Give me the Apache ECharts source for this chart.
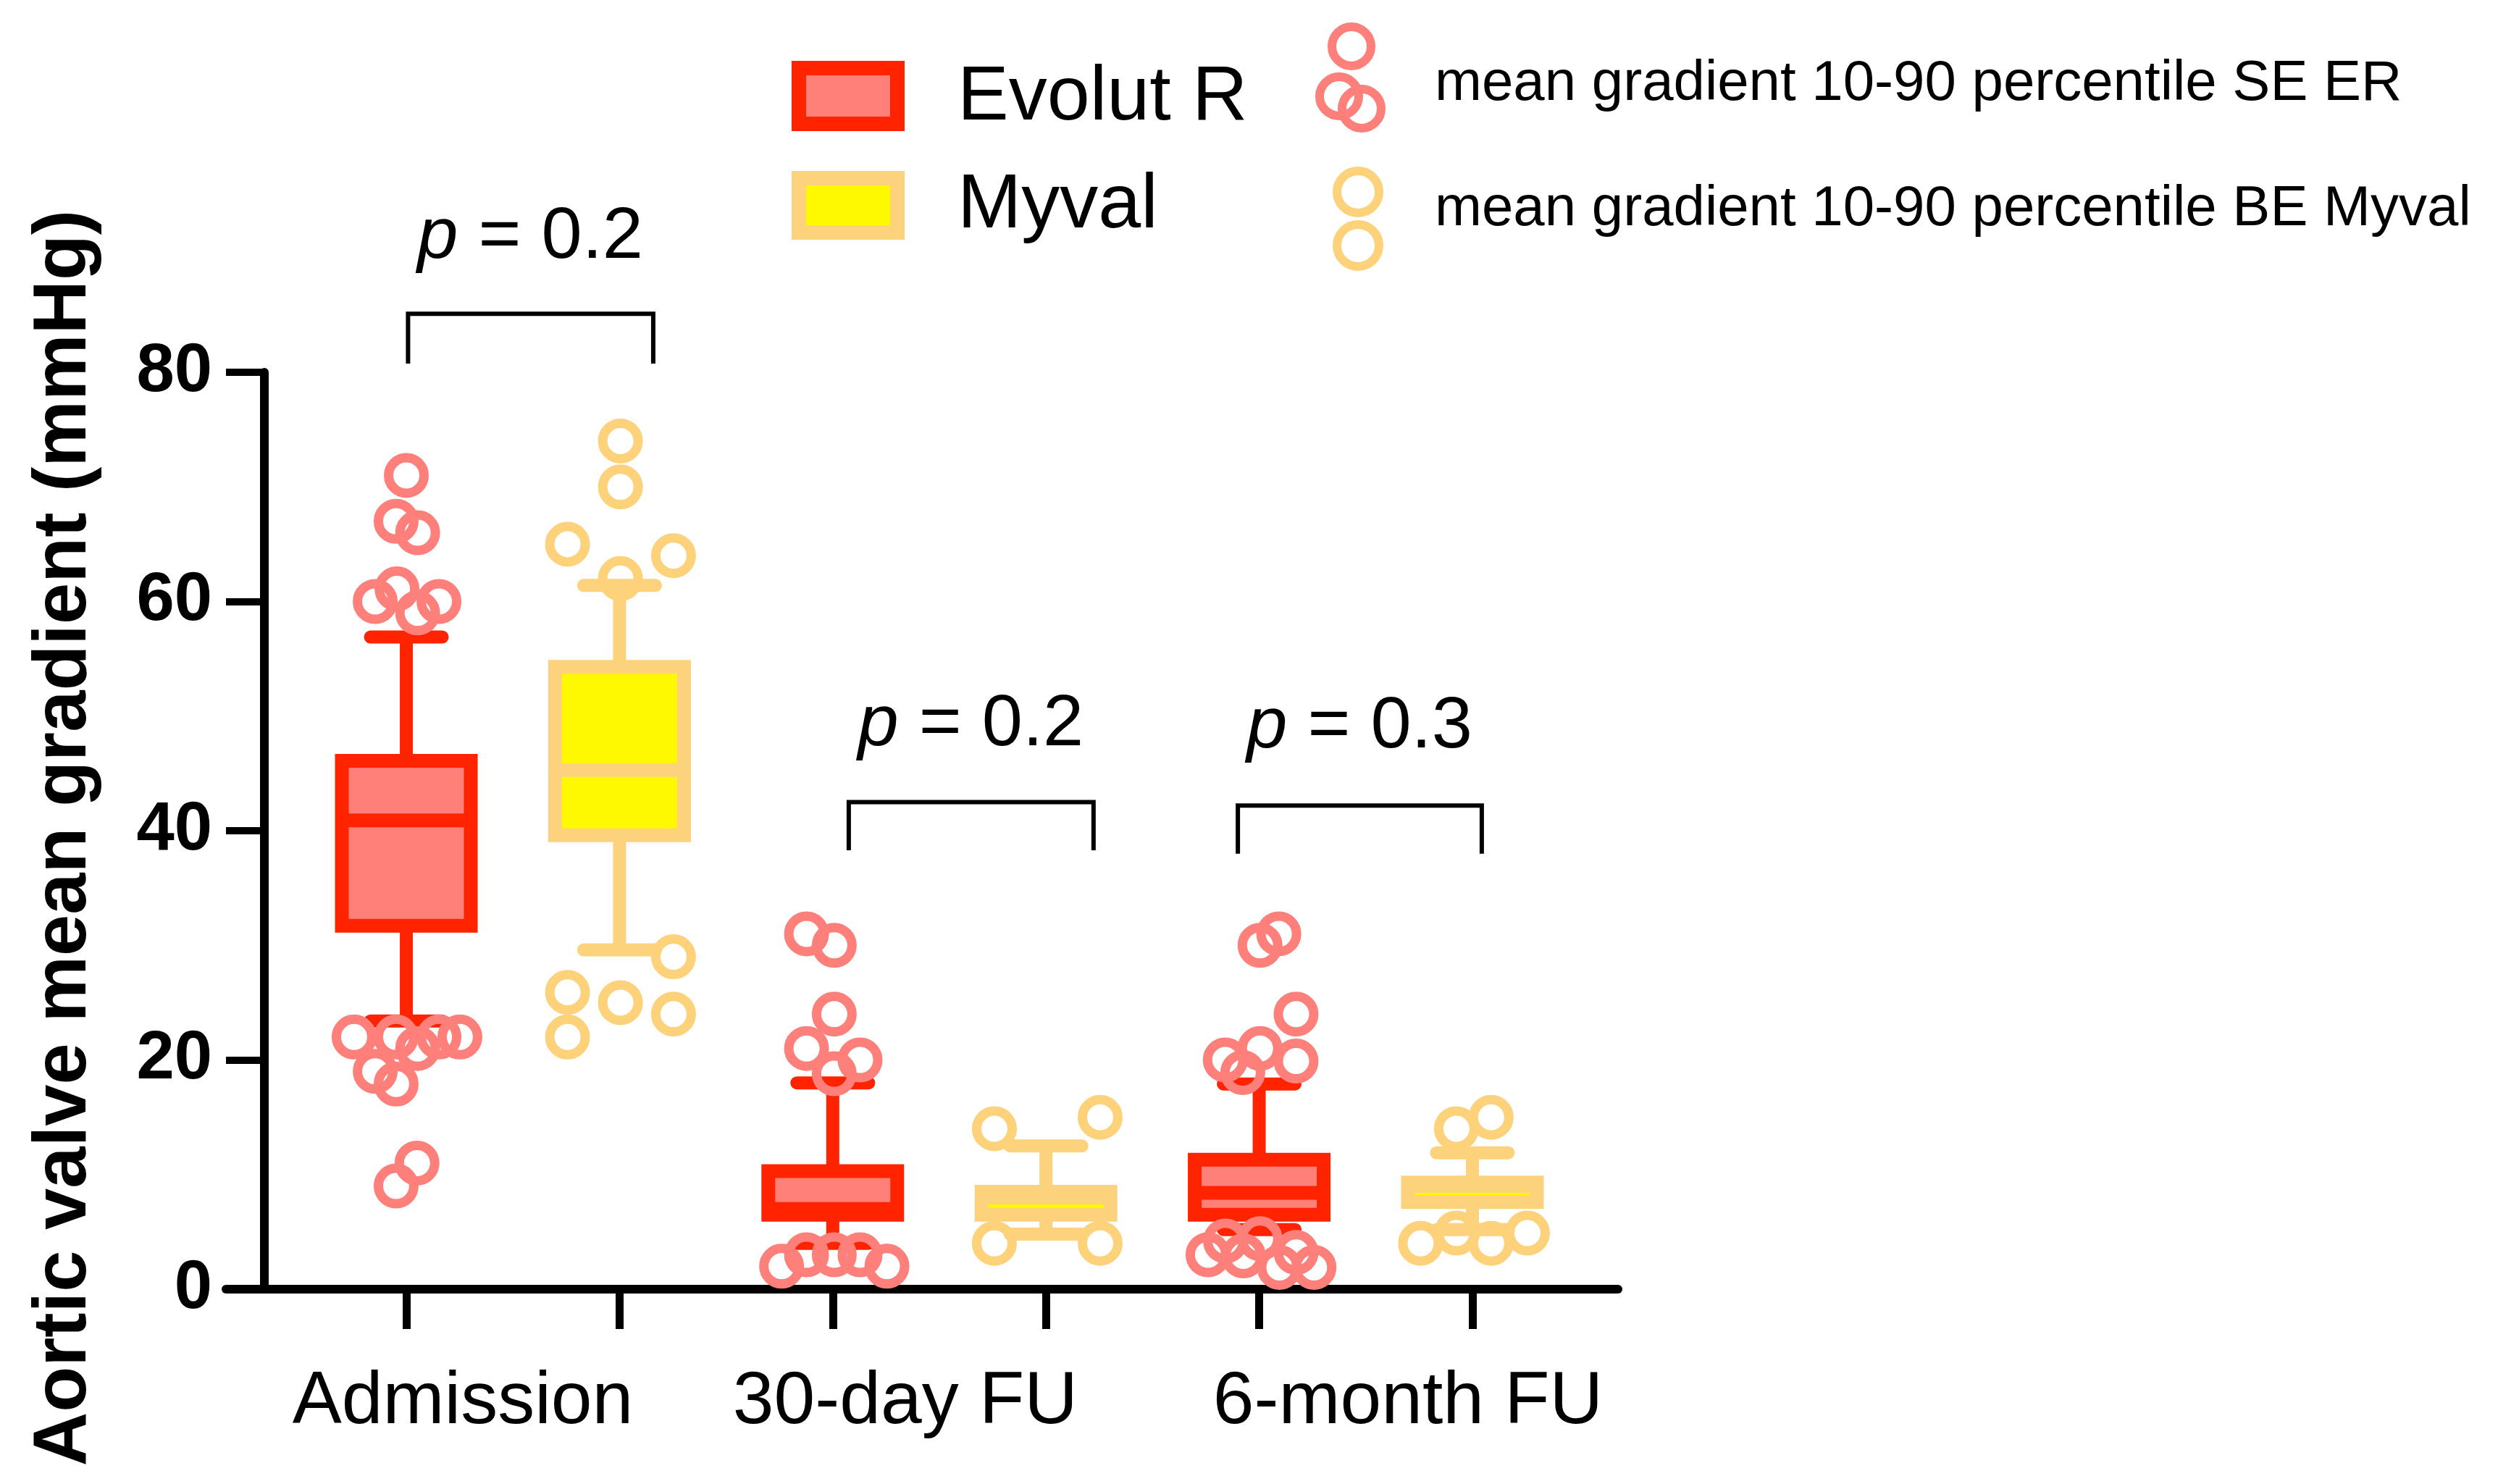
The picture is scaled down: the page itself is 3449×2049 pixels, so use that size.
<!DOCTYPE html>
<html><head><meta charset="utf-8">
<script src="https://cdn.jsdelivr.net/npm/echarts@6/dist/echarts.min.js"></script>
<style>html,body{margin:0;padding:0;background:#fff}#c{width:3449px;height:2049px}</style>
</head><body><div id="c"></div><script>
// ---------------- DATA ----------------
const groups = ['Admission', '30-day FU', '6-month FU'];
const erPos = [1, 3, 5];
const myPos = [2, 4, 6];
// Evolut R box statistics (low whisker, Q1, median, Q3, high whisker)
const erLow  = [23.4, 4.0, 5.2];
const erQ1   = [31.7, 6.5, 6.5];
const erMed  = [40.9, 7.0, 8.4];
const erQ3   = [46.1, 10.3, 11.3];
const erHigh = [56.9, 18.0, 17.9];
// Myval box statistics
const myLow  = [29.6, 4.8, 5.2];
const myQ1   = [39.6, 6.5, 7.6];
const myMed  = [45.3, 8.0, 9.0];
const myQ3   = [54.3, 8.5, 9.3];
const myHigh = [61.4, 12.5, 11.9];
// points outside the 10-90 percentile (x = jittered slot position, y = mmHg)
const erOutX = [1.0, 0.952, 1.053, 0.854, 0.956, 1.153, 1.053, 0.755, 0.952, 1.053, 1.153, 1.251, 0.854, 0.952, 1.05, 0.952,
                2.877, 3.007, 3.007, 2.877, 3.128, 3.007, 2.76, 2.877, 3.007, 3.128, 3.254,
                5.092, 5.004, 5.173, 5.004, 4.841, 5.173, 4.923, 4.76, 4.842, 4.926, 5.004, 5.095, 5.173, 5.257];
const erOutY = [71, 67, 66, 60, 61.1, 60, 59, 22, 22, 21, 22, 22, 19, 17.9, 11, 9,
                31, 30, 24, 21, 20, 18.8, 2, 3, 3, 3, 2,
                31, 30, 24, 21, 20, 19.9, 18.9, 3, 4.2, 2.9, 4.4, 1.9, 3.2, 1.9];
const myOutX = [2.004, 2.004, 1.756, 2.253, 2.004, 2.253, 1.756, 2.004, 2.253, 1.756,
                3.758, 4.254, 3.758, 4.254,
                5.925, 6.088, 5.757, 5.925, 6.088, 6.258];
const myOutY = [74, 70, 65, 64, 62, 29, 25.9, 25, 24, 22,
                14, 15, 4, 4,
                14, 15, 4, 4.9, 4, 4.9];
const pValues = ['0.2', '0.2', '0.3'];
const yTicks = [0, 20, 40, 60, 80];
const seriesNames = ['Evolut R', 'Myval'];
const outNames = ['mean gradient 10-90 percentile SE ER', 'mean gradient 10-90 percentile BE Myval'];

// ---------------- LAYOUT / STYLE ----------------
const FONT = "'Liberation Sans', Arial, Helvetica, sans-serif";
const ER_BORDER = '#FF2300', ER_FILL = '#FF8078', ER_DOT = '#FF7F7A';
const MY_BORDER = '#FDD27C', MY_FILL = '#FFF900', MY_DOT = '#FDD27A';
const groupLabelX = [1.265, 3.34, 5.698];
const brackets = [ // [x1, x2, topY, legY, labelY]
  [1.008, 2.158, 85.1, 80.76, 91.7],
  [3.075, 4.223, 42.5, 38.3, 49.2],
  [4.9, 6.044, 42.2, 38.0, 49.0]
];

function boxData(pos, lo, q1, md, q3, hi) {
  return pos.map((p, i) => [p, lo[i], q1[i], md[i], q3[i], hi[i]]);
}
function makeRender(border, fill) {
  return function (params, api) {
    const x = api.value(0);
    const lo = api.coord([x, api.value(1)]);
    const q1 = api.coord([x, api.value(2)]);
    const md = api.coord([x, api.value(3)]);
    const q3 = api.coord([x, api.value(4)]);
    const hi = api.coord([x, api.value(5)]);
    const cx = lo[0];
    const hw = 89, cw = 49.5;
    const ls = { stroke: border, lineWidth: 18, fill: null };
    const lc = { stroke: border, lineWidth: 18, lineCap: 'round', fill: null };
    return {
      type: 'group',
      children: [
        { type: 'line', shape: { x1: cx, y1: hi[1], x2: cx, y2: q3[1] }, style: ls },
        { type: 'line', shape: { x1: cx, y1: q1[1], x2: cx, y2: lo[1] }, style: ls },
        { type: 'line', shape: { x1: cx - cw, y1: hi[1], x2: cx + cw, y2: hi[1] }, style: lc },
        { type: 'line', shape: { x1: cx - cw, y1: lo[1], x2: cx + cw, y2: lo[1] }, style: lc },
        { type: 'rect', shape: { x: cx - hw, y: q3[1], width: 2 * hw, height: q1[1] - q3[1] },
          style: { fill: fill, stroke: border, lineWidth: 19, lineJoin: 'miter' } },
        { type: 'line', shape: { x1: cx - hw, y1: md[1], x2: cx + hw, y2: md[1] },
          style: { stroke: border, lineWidth: 19, fill: null } }
      ]
    };
  };
}

const chart = echarts.init(document.getElementById('c'), null, { renderer: 'canvas' });

const bracketSeries = brackets.map(b => ({
  type: 'line', clip: false, silent: true, symbol: 'none', z: 5,
  lineStyle: { color: '#000', width: 6, cap: 'butt', join: 'miter' },
  data: [[b[0], b[3]], [b[0], b[2]], [b[1], b[2]], [b[1], b[3]]]
}));

const option = {
  backgroundColor: '#fff',
  animation: false,
  grid: { left: 312, right: 1215, top: 514, bottom: 269, containLabel: false },
  xAxis: {
    type: 'value', min: 0.154, max: 6.683,
    splitLine: { show: false },
    axisLine: { show: true, onZero: false, lineStyle: { color: '#000', width: 12 } },
    axisTick: { show: true, customValues: [1, 2, 3, 4, 5, 6], length: 55, lineStyle: { color: '#000', width: 11 } },
    axisLabel: {
      show: true, customValues: groupLabelX, margin: 157, verticalAlign: 'middle',
      color: '#000', fontSize: 102, fontFamily: FONT,
      formatter: v => { const i = groupLabelX.indexOf(v); return i >= 0 ? groups[i] : ''; }
    }
  },
  yAxis: {
    type: 'value', min: 0, max: 80, interval: 20, offset: -53,
    splitLine: { show: false },
    axisLine: { show: true, lineStyle: { color: '#000', width: 12 } },
    axisTick: { show: true, length: 53, lineStyle: { color: '#000', width: 10 } },
    axisLabel: { color: '#000', fontSize: 94, fontWeight: 'bold', fontFamily: FONT, margin: 72,
      formatter: v => (yTicks.indexOf(v) >= 0 ? String(v) : '') }
  },
  series: [
    { type: 'custom', name: seriesNames[0], renderItem: makeRender(ER_BORDER, ER_FILL), clip: false, z: 2,
      encode: { x: 0, y: [1, 2, 3, 4, 5] }, data: boxData(erPos, erLow, erQ1, erMed, erQ3, erHigh) },
    { type: 'custom', name: seriesNames[1], renderItem: makeRender(MY_BORDER, MY_FILL), clip: false, z: 2,
      encode: { x: 0, y: [1, 2, 3, 4, 5] }, data: boxData(myPos, myLow, myQ1, myMed, myQ3, myHigh) },
    { type: 'scatter', name: outNames[0], symbol: 'circle', symbolSize: 49, clip: false, z: 3, silent: true,
      itemStyle: { color: 'rgba(255,255,255,0)', borderColor: ER_DOT, borderWidth: 13, opacity: 1 },
      data: erOutX.map((x, i) => [x, erOutY[i]]) },
    { type: 'scatter', name: outNames[1], symbol: 'circle', symbolSize: 49, clip: false, z: 3, silent: true,
      itemStyle: { color: 'rgba(255,255,255,0)', borderColor: MY_DOT, borderWidth: 13, opacity: 1 },
      data: myOutX.map((x, i) => [x, myOutY[i]]) },
    ...bracketSeries,
    { type: 'scatter', clip: false, silent: true, symbolSize: 1, z: 6,
      itemStyle: { color: '#ffffff', opacity: 0 },
      label: {
        show: true, position: [0, 0], align: 'center', verticalAlign: 'middle',
        color: '#000000', opacity: 1, fontSize: 101, fontFamily: FONT,
        textBorderWidth: 0,
        formatter: p => '{i|p} = ' + pValues[p.dataIndex],
        rich: { i: { fontStyle: 'italic', fontSize: 101, fontFamily: FONT, color: '#000000' } }
      },
      data: brackets.map(b => [(b[0] + b[1]) / 2, b[4]]) }
  ],
  graphic: [
    { type: 'text', x: 90, y: 1157, rotation: Math.PI / 2,
      style: { text: 'Aortic valve mean gradient (mmHg)', fill: '#000', font: 'bold 103px ' + FONT,
        align: 'center', verticalAlign: 'middle' } },
    // legend: box icons
    { type: 'rect', shape: { x: 1103, y: 94, width: 136, height: 77 },
      style: { fill: ER_FILL, stroke: ER_BORDER, lineWidth: 20 } },
    { type: 'rect', shape: { x: 1103, y: 246, width: 136, height: 75 },
      style: { fill: MY_FILL, stroke: MY_BORDER, lineWidth: 20 } },
    { type: 'text', x: 1322, y: 136, style: { text: seriesNames[0], fill: '#000', font: '106px ' + FONT, align: 'left', verticalAlign: 'middle' } },
    { type: 'text', x: 1322, y: 285, style: { text: seriesNames[1], fill: '#000', font: '106px ' + FONT, align: 'left', verticalAlign: 'middle' } },
    // legend: circle icons
    { type: 'circle', shape: { cx: 1866, cy: 64, r: 27 }, style: { fill: null, stroke: ER_DOT, lineWidth: 12 } },
    { type: 'circle', shape: { cx: 1849, cy: 133, r: 27 }, style: { fill: null, stroke: ER_DOT, lineWidth: 12 } },
    { type: 'circle', shape: { cx: 1880, cy: 150, r: 27 }, style: { fill: null, stroke: ER_DOT, lineWidth: 12 } },
    { type: 'circle', shape: { cx: 1875, cy: 265, r: 29 }, style: { fill: null, stroke: MY_DOT, lineWidth: 12 } },
    { type: 'circle', shape: { cx: 1875, cy: 339, r: 29 }, style: { fill: null, stroke: MY_DOT, lineWidth: 12 } },
    { type: 'text', x: 1981, y: 116, style: { text: outNames[0], fill: '#000', font: '78px ' + FONT, align: 'left', verticalAlign: 'middle' } },
    { type: 'text', x: 1981, y: 289, style: { text: outNames[1], fill: '#000', font: '78px ' + FONT, align: 'left', verticalAlign: 'middle' } }
  ]
};
chart.setOption(option);
</script></body></html>
